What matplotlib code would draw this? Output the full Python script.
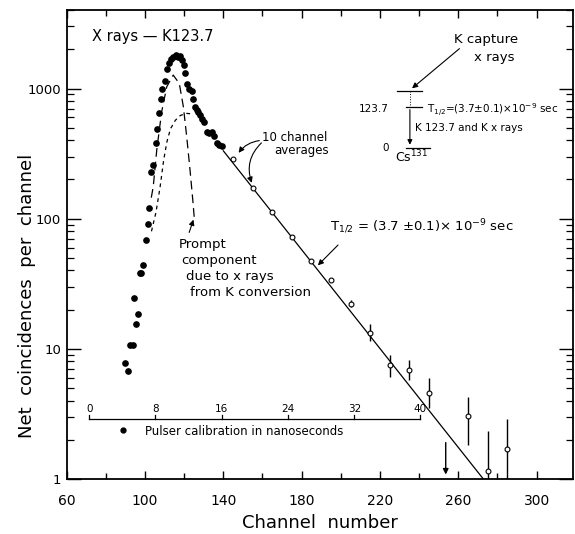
import matplotlib.pyplot as plt
from matplotlib.ticker import FixedLocator, LogLocator, NullFormatter

# filled dots: channel, net coincidences
dot_ch = [89.8, 91.5, 92.3, 94.0, 94.4, 95.2, 96.3, 97.3, 98.0, 99.1, 100.5, 101.4, 102.2,
          102.9, 104.2, 105.5, 106.3, 107.1, 108.0, 108.8, 110.1, 111.1, 112.4, 113.3, 114.4,
          115.8, 117.0, 117.9, 118.9, 119.8, 120.4, 121.3, 122.3, 124.1, 124.4, 125.5, 126.4,
          127.2, 128.1, 129.3, 130.3, 131.5, 132.7, 134.1, 135.2, 136.6, 137.9, 139.5]
dot_val = [7.8, 6.8, 10.7, 10.7, 24.4, 15.6, 18.5, 38, 38, 44, 68, 91, 121,
           229, 257, 382, 492, 650, 834, 983, 1145, 1418, 1557, 1692, 1753,
           1794, 1753, 1771, 1642, 1503, 1321, 1092, 995, 953, 834, 723, 689,
           662, 631, 578, 551, 464, 456, 464, 430, 382, 371, 360]

# 10 channel averages with error bars
avg_ch = [145, 155, 165, 175, 185, 195, 205, 215, 225, 235, 245, 265, 275, 285]
avg_val = [285, 173, 113, 71.8, 47.2, 33.6, 22.2, 13.3, 7.5, 6.9, 4.55, 3.05, 1.15, 1.70]
avg_hi = [285, 173, 113, 71.8, 47.2, 33.6, 23.7, 15.5, 9.0, 8.2, 5.95, 4.3, 2.35, 2.87]
avg_lo = [285, 173, 113, 71.8, 47.2, 33.6, 21.1, 11.5, 6.1, 5.8, 3.5, 1.83, 1.0, 1.0]

# fitted decay line, T1/2 = 3.7 ns
fit_ch = [140.0, 272.8]
fit_val = [332, 1.0]

# prompt component (long dash) and delayed component (short dash)
prompt_ch = [103.2, 104.2, 106.0, 108.5, 111.1, 114.4, 117.5, 119.6, 121.3, 123.0, 124.4, 125.2]
prompt_val = [145, 176, 337, 662, 1031, 1268, 1094, 723, 426, 236, 139, 100]
delay_ch = [103.3, 105.6, 107.7, 109.5, 111.2, 113.0, 115.5, 118.0, 121.0, 123.0, 124.8]
delay_val = [80, 112, 175, 280, 390, 490, 570, 620, 645, 640, 625]

# pulser calibration scale (ns -> channel)
pulser_ns = [0, 8, 16, 24, 32, 40]
pulser_ch = [71.5, 105.3, 139.2, 173.0, 206.9, 240.7]

# upper limit arrow
limit_ch = 253.6
limit_top = 2.0

plt.rcParams['font.family'] = 'DejaVu Sans'
fig = plt.figure(figsize=(5.75, 5.34), dpi=100)
ax = fig.add_axes([0.116, 0.103, 0.8805, 0.878])
ax.set_yscale('log')
ax.set_xlim(60, 318.6)
ax.set_ylim(1, 4000)

ax.plot(dot_ch, dot_val, 'o', color='k', ms=3.8, mec='k')
ax.plot(fit_ch, fit_val, '-', color='k', lw=0.9)
ax.plot(prompt_ch, prompt_val, color='k', lw=0.9, dashes=(7, 4))
ax.plot(delay_ch, delay_val, color='k', lw=0.9, dashes=(3, 3))
yerr = [[v - lo for v, lo in zip(avg_val, avg_lo)], [hi - v for v, hi in zip(avg_val, avg_hi)]]
ax.errorbar(avg_ch, avg_val, yerr=yerr, fmt='o', color='k', mfc='white', mec='k',
            ms=3.5, mew=0.8, elinewidth=1.0, capsize=0, zorder=3)
ax.annotate('', xy=(limit_ch, 1.03), xytext=(limit_ch, limit_top),
            arrowprops=dict(arrowstyle='-|>', color='k', lw=1.0, mutation_scale=8))

# pulser scale
ax.plot([pulser_ch[0], pulser_ch[-1]], [2.87, 2.87], color='k', lw=0.9)
for ns, ch in zip(pulser_ns, pulser_ch):
    ax.plot([ch, ch], [2.87, 3.1], color='k', lw=0.9)
    ax.text(ch, 3.45, str(ns), ha='center', va='center', fontsize=7.5)
ax.plot([88.9], [2.38], 'o', color='k', ms=3.5)
ax.text(100, 2.30, 'Pulser calibration in nanoseconds', ha='left', va='center', fontsize=8.5)

# annotations
ax.text(72.8, 2495, 'X rays \u2014 K123.7', ha='left', va='center', fontsize=10.5)
ax.text(159.5, 423, '10 channel', ha='left', va='center', fontsize=8.5)
ax.text(166.0, 336, 'averages', ha='left', va='center', fontsize=8.5)
ax.annotate('', xy=(147, 308), xytext=(159.8, 400),
            arrowprops=dict(arrowstyle='-|>', color='k', lw=0.8, mutation_scale=8,
                            connectionstyle='arc3,rad=0.25'))
ax.annotate('', xy=(155, 180), xytext=(160.5, 395),
            arrowprops=dict(arrowstyle='-|>', color='k', lw=0.8, mutation_scale=8,
                            connectionstyle='arc3,rad=0.35'))
ax.text(194.5, 86.7, r'T$_{1/2}$ = (3.7 $\pm$0.1)$\times$ 10$^{-9}$ sec', ha='left', va='center',
        fontsize=9.5)
ax.annotate('', xy=(187.3, 42.3), xytext=(199.6, 65),
            arrowprops=dict(arrowstyle='-|>', color='k', lw=0.8, mutation_scale=8))
for txt, x, y in [('Prompt', 117.4, 63.8), ('component', 118.7, 48.1),
                  ('due to x rays', 120.9, 35.8), ('from K conversion', 123.0, 27.0)]:
    ax.text(x, y, txt, ha='left', va='center', fontsize=9.5)
ax.annotate('', xy=(125.2, 103), xytext=(122.1, 74.8),
            arrowprops=dict(arrowstyle='-|>', color='k', lw=0.8, mutation_scale=8))

# level scheme inset
ax.text(274.1, 2395, 'K capture', ha='center', va='center', fontsize=9.5)
ax.text(278.3, 1742, 'x rays', ha='center', va='center', fontsize=9.5)
ax.annotate('', xy=(235.3, 972), xytext=(261.7, 2090),
            arrowprops=dict(arrowstyle='-|>', color='k', lw=0.8, mutation_scale=8))
ax.plot([228.5, 241.3], [960, 960], color='k', lw=0.9)
ax.plot([233.3, 241.3], [723, 723], color='k', lw=0.9)
ax.plot([233.3, 245.5], [350, 350], color='k', lw=0.9)
ax.plot([235.3, 235.3], [960, 740], color='k', lw=0.7, ls=':')
ax.annotate('', xy=(235.3, 352), xytext=(235.3, 723),
            arrowprops=dict(arrowstyle='-|>', color='k', lw=0.8, mutation_scale=7))
ax.text(224.7, 700, '123.7', ha='right', va='center', fontsize=7.5)
ax.text(224.7, 350, '0', ha='right', va='center', fontsize=7.5)
ax.text(243.9, 690, r'T$_{1/2}$=(3.7$\pm$0.1)$\times$10$^{-9}$ sec', ha='left', va='center',
        fontsize=7.5)
ax.text(237.9, 496, 'K 123.7 and K x rays', ha='left', va='center', fontsize=7.5)
ax.text(227.7, 300, r'Cs$^{131}$', ha='left', va='center', fontsize=9)

# axes styling
for s in ax.spines.values():
    s.set_linewidth(1.3)
ax.xaxis.set_major_locator(FixedLocator([60, 100, 140, 180, 220, 260, 300]))
ax.xaxis.set_minor_locator(FixedLocator([80, 120, 160, 200, 240, 280]))
ax.set_xticklabels(['60', '100', '140', '180', '220', '260', '300'])
ax.yaxis.set_major_locator(FixedLocator([1, 10, 100, 1000]))
ax.set_yticklabels(['1', '10', '100', '1000'])
ax.yaxis.set_minor_locator(LogLocator(base=10, subs=range(2, 10)))
ax.yaxis.set_minor_formatter(NullFormatter())
ax.tick_params(which='both', direction='in', top=True, right=True, labelsize=10)
ax.tick_params(axis='y', labelsize=9.5)
ax.tick_params(axis='x', which='major', length=6, width=1.0, pad=11)
ax.tick_params(axis='x', which='minor', length=4, width=1.0)
ax.tick_params(axis='y', which='major', length=10, width=1.0, pad=4)
ax.tick_params(axis='y', which='minor', length=5, width=0.9)

ax.set_xlabel('Channel  number', fontsize=13, labelpad=4)
ax.set_ylabel('Net  coincidences  per  channel', fontsize=13)
ax.yaxis.set_label_coords(-0.06, 0.39)

fig.savefig('out.png', dpi=100)
